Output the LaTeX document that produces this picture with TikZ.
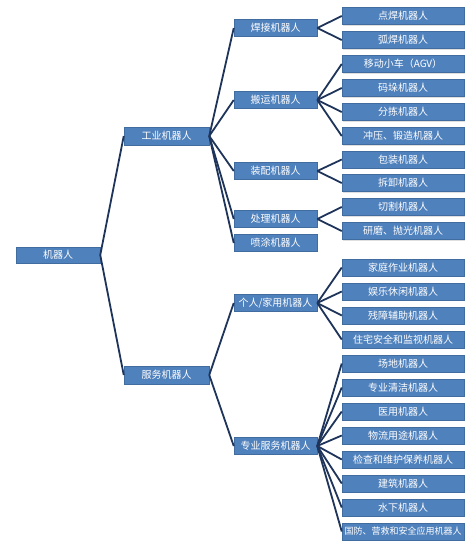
\documentclass[tikz,border=0pt]{standalone}
\usepackage{fontspec}
\setmainfont{Noto Sans CJK SC}
\usetikzlibrary{shadows}
\definecolor{boxblue}{RGB}{79,129,189}
\definecolor{boxedge}{RGB}{65,108,160}
\definecolor{linenavy}{RGB}{30,52,90}
\tikzset{
	box/.style={fill=boxblue, draw=boxedge, line width=0.5pt, text=white, inner sep=0pt, minimum height=17pt, font=\fontsize{10}{11}\selectfont},
	rootbox/.style={box, minimum width=84pt, minimum height=16pt},
	catbox/.style={box, minimum width=85pt, minimum height=18pt},
	subbox/.style={box, minimum width=83pt},
	leafbox/.style={box, minimum width=122pt, drop shadow={shadow xshift=1pt, shadow yshift=-1pt, opacity=0.25}},
	link/.style={linenavy, line width=1.8pt}
}
\begin{document}
\begin{tikzpicture}[x=1pt, y=-1pt]
		\useasboundingbox[fill=white] (0,0) rectangle (468,541);

		\node[rootbox] (robot) at (58,255) {机器人};

		\node[catbox] (industrial) at (166.5,136) {工业机器人};
		\node[catbox] (service) at (166.5,375) {服务机器人};

		\node[subbox] (welding) at (275.5,28) {焊接机器人};
		\node[subbox] (handling) at (275.5,100) {搬运机器人};
		\node[subbox] (assembly) at (275.5,171) {装配机器人};
		\node[subbox] (processing) at (275.5,219) {处理机器人};
		\node[subbox] (painting) at (275.5,243) {喷涂机器人};
		\node[subbox] (personal) at (275.5,303) {个人/家用机器人};
		\node[subbox] (professional) at (275.5,446) {专业服务机器人};

		\node[leafbox] (spot) at (403,16) {点焊机器人};
		\node[leafbox] (arc) at (403,40) {弧焊机器人};
		\node[leafbox] (agv) at (403,64) {移动小车（AGV）};
		\node[leafbox] (palletizing) at (403,88) {码垛机器人};
		\node[leafbox] (sorting) at (403,112) {分拣机器人};
		\node[leafbox] (stamping) at (403,136) {冲压、锻造机器人};
		\node[leafbox] (packing) at (403,159.5) {包装机器人};
		\node[leafbox] (dismantling) at (403,183) {拆卸机器人};
		\node[leafbox] (cutting) at (403,207) {切割机器人};
		\node[leafbox] (grinding) at (403,231) {研磨、抛光机器人};
		\node[leafbox] (household) at (403,267.5) {家庭作业机器人};
		\node[leafbox] (leisure) at (403,291.5) {娱乐休闲机器人};
		\node[leafbox] (disability) at (403,315.5) {残障辅助机器人};
		\node[leafbox] (security) at (403,339.5) {住宅安全和监视机器人};
		\node[leafbox] (field) at (403,363.5) {场地机器人};
		\node[leafbox] (cleaning) at (403,387.5) {专业清洁机器人};
		\node[leafbox] (medical) at (403,411.5) {医用机器人};
		\node[leafbox] (logistics) at (403,435.5) {物流用途机器人};
		\node[leafbox] (inspection) at (403,459.5) {检查和维护保养机器人};
		\node[leafbox] (construction) at (403,483.5) {建筑机器人};
		\node[leafbox] (underwater) at (403,507.5) {水下机器人};
		\node[leafbox, font=\fontsize{9}{10}\selectfont] (defence) at (403,531.5) {国防、营救和安全应用机器人};

		\foreach \c in {industrial,service} \draw[link] (robot.east) -- (\c.west);
		\foreach \c in {welding,handling,assembly,processing,painting} \draw[link] (industrial.east) -- (\c.west);
		\foreach \c in {personal,professional} \draw[link] (service.east) -- (\c.west);
		\foreach \c in {spot,arc} \draw[link] (welding.east) -- (\c.west);
		\foreach \c in {agv,palletizing,sorting,stamping} \draw[link] (handling.east) -- (\c.west);
		\foreach \c in {packing,dismantling} \draw[link] (assembly.east) -- (\c.west);
		\foreach \c in {cutting,grinding} \draw[link] (processing.east) -- (\c.west);
		\foreach \c in {household,leisure,disability,security} \draw[link] (personal.east) -- (\c.west);
		\foreach \c in {field,cleaning,medical,logistics,inspection,construction,underwater,defence} \draw[link] (professional.east) -- (\c.west);
	\end{tikzpicture}
\end{document}
